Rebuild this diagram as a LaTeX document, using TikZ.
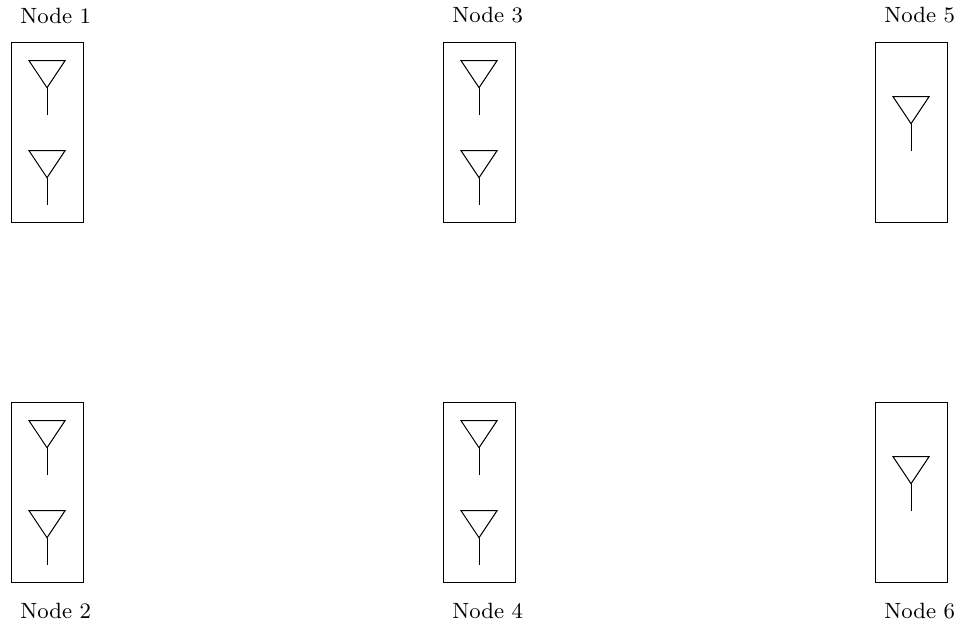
\documentclass[tikz,border=0pt]{standalone}
\usetikzlibrary{positioning,calc}
\tikzset{
  nodebox/.style={draw,minimum width=1cm,minimum height=2.5cm,inner sep=0pt,outer sep=0pt},
  nodelabel/.style={font=\small,scale=.97,inner sep=0pt,outer sep=0pt}
}
% antenna, #1 is the middle of its top edge
\newcommand{\antenna}[1]{
  \draw (#1) +(-.25,0) -- +(.25,0) -- +(0,-.375) -- cycle;
  \draw (#1) +(0,-.375) -- +(0,-.75);
}
\begin{document}
\begin{tikzpicture}
  \useasboundingbox (-.153,-.629) rectangle (13.222,8.093);
  % the boxes
  \foreach \n/\x/\y in {1/.5/6.25,2/.5/1.25,3/6.5/6.25,4/6.5/1.25,5/12.5/6.25,6/12.5/1.25}
    \node[nodebox] (box\n) at (\x,\y) {};
  %% the labels
  \foreach \n in {1,3,5}
    \node[nodelabel,above=.27cm of box\n.north,xshift=.125cm] (label\n) {Node \n};
  \foreach \n in {2,4,6}
    \node[nodelabel,below=.28cm of box\n.south,xshift=.125cm] (label\n) {Node \n};
  % two antennas in nodes 1 to 4, one in nodes 5 and 6
  \foreach \n in {1,2,3,4}
  {
    \antenna{$(box\n.north)+(0,-.25)$}
    \antenna{$(box\n.north)+(0,-1.5)$}
  }
  \foreach \n in {5,6}
  {
    \antenna{$(box\n.north)+(0,-.75)$}
  }
\end{tikzpicture}
\end{document}
